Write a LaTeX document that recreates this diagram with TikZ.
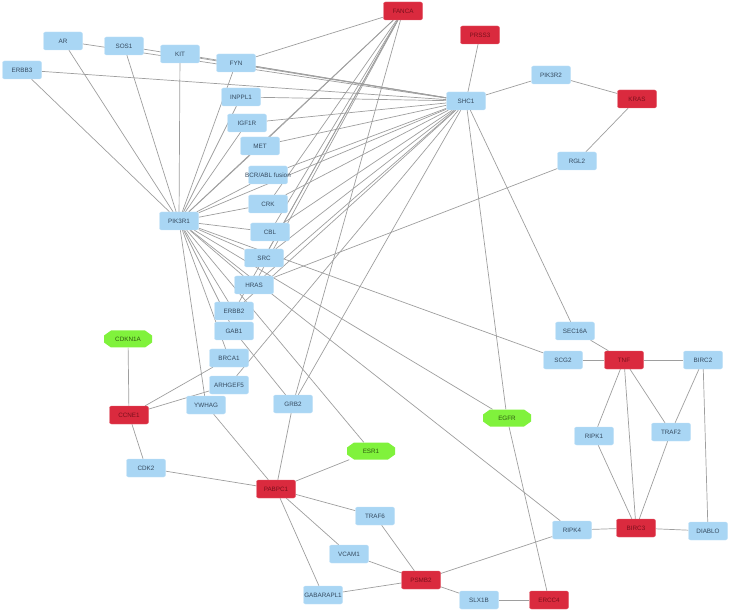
\documentclass[tikz,border=0pt]{standalone}
\usepackage{fontspec}
\setmainfont{Liberation Sans}
\definecolor{nblue}{HTML}{A9D6F4}
\definecolor{nred}{HTML}{DA2A3E}
\definecolor{ngreen}{HTML}{80F23C}
\definecolor{edgec}{HTML}{9E9E9E}
\definecolor{tblue}{HTML}{34495E}
\definecolor{tred}{HTML}{7A101C}
\definecolor{tgreen}{HTML}{2E5A10}
\pgfdeclarelayer{edgelayer}
\pgfsetlayers{edgelayer,main}
\newcommand{\GreenGene}[4]{%
  \fill[ngreen,shift={(#2,#3)}] (-24,-3.5) -- (-17,-8.5) -- (17,-8.5) -- (24,-3.5) -- (24,3.5) -- (17,8.5) -- (-17,8.5) -- (-24,3.5) -- cycle;
  \node[gtext] (#1) at (#2,#3) {#4};}
\begin{document}
\begin{tikzpicture}[x=1pt,y=-1pt,
  gene/.style={rectangle,rounded corners=2pt,minimum width=39pt,minimum height=18pt,inner sep=0pt,font=\fontsize{6.3}{7}\selectfont},
  bnode/.style={gene,fill=nblue,draw=nblue!70!white,text=tblue},
  rnode/.style={gene,fill=nred,draw=nred!75!white,text=tred},
  gtext/.style={rectangle,minimum width=48pt,minimum height=17pt,inner sep=0pt,text=tgreen,font=\fontsize{6.3}{7}\selectfont},
  link/.style={draw=edgec,line width=0.7pt}]
\useasboundingbox (0,0) rectangle (731,612);
% red nodes
\node[rnode] (FANCA) at (403,11) {FANCA};
\node[rnode] (PRSS3) at (480,35) {PRSS3};
\node[rnode] (KRAS) at (637,99) {KRAS};
\node[rnode] (TNF) at (624,360) {TNF};
\node[rnode] (CCNE1) at (129,415) {CCNE1};
\node[rnode] (PABPC1) at (276,489) {PABPC1};
\node[rnode] (BIRC3) at (636,528) {BIRC3};
\node[rnode] (PSMB2) at (421,580) {PSMB2};
\node[rnode] (ERCC4) at (549,600) {ERCC4};
% blue nodes
\node[bnode] (AR) at (63,41) {AR};
\node[bnode] (SOS1) at (124,46) {SOS1};
\node[bnode] (KIT) at (180,54) {KIT};
\node[bnode] (FYN) at (236,63) {FYN};
\node[bnode] (ERBB3) at (22,70) {ERBB3};
\node[bnode] (PIK3R2) at (551,75) {PIK3R2};
\node[bnode] (SHC1) at (466,101) {SHC1};
\node[bnode] (INPPL1) at (241,97) {INPPL1};
\node[bnode] (IGF1R) at (247,123) {IGF1R};
\node[bnode] (MET) at (260,146) {MET};
\node[bnode] (RGL2) at (577,161) {RGL2};
\node[bnode] (BCRABL) at (268,175) {};
\node[font=\fontsize{6.3}{7}\selectfont,text=tblue] at (BCRABL) {BCR/ABL fusion};
\node[bnode] (CRK) at (268,204) {CRK};
\node[bnode] (PIK3R1) at (179,221) {PIK3R1};
\node[bnode] (CBL) at (270,232) {CBL};
\node[bnode] (SRC) at (264,258) {SRC};
\node[bnode] (HRAS) at (254,285) {HRAS};
\node[bnode] (ERBB2) at (234,311) {ERBB2};
\node[bnode] (GAB1) at (234,331) {GAB1};
\node[bnode] (SEC16A) at (575,331) {SEC16A};
\node[bnode] (BRCA1) at (229,358) {BRCA1};
\node[bnode] (SCG2) at (563,360) {SCG2};
\node[bnode] (BIRC2) at (703,360) {BIRC2};
\node[bnode] (ARHGEF5) at (229,385) {ARHGEF5};
\node[bnode] (YWHAG) at (206,405) {YWHAG};
\node[bnode] (GRB2) at (293,404) {GRB2};
\node[bnode] (TRAF2) at (671,432) {TRAF2};
\node[bnode] (RIPK1) at (594,436) {RIPK1};
\node[bnode] (CDK2) at (146,468) {CDK2};
\node[bnode] (TRAF6) at (375,516) {TRAF6};
\node[bnode] (RIPK4) at (572,530) {RIPK4};
\node[bnode] (DIABLO) at (708,531) {DIABLO};
\node[bnode] (VCAM1) at (349,554) {VCAM1};
\node[bnode] (GABARAPL1) at (323,595) {GABARAPL1};
\node[bnode] (SLX1B) at (479,600) {SLX1B};
% green nodes
\GreenGene{CDKN1A}{128}{339}{CDKN1A}
\GreenGene{EGFR}{507}{418}{EGFR}
\GreenGene{ESR1}{371}{451}{ESR1}
% edges
\begin{pgfonlayer}{edgelayer}
\foreach \a/\b in {SHC1/PRSS3,SHC1/PIK3R2,SHC1/AR,SHC1/SOS1,SHC1/KIT,SHC1/FYN,SHC1/ERBB3,
  SHC1/INPPL1,SHC1/IGF1R,SHC1/MET,SHC1/BCRABL,SHC1/CRK,SHC1/CBL,SHC1/SRC,SHC1/HRAS,
  SHC1/ERBB2,SHC1/ARHGEF5,SHC1/GRB2,SHC1/PIK3R1,SHC1/SEC16A,SHC1/EGFR,
  PIK3R1/ERBB3,PIK3R1/AR,PIK3R1/SOS1,PIK3R1/KIT,PIK3R1/FYN,PIK3R1/INPPL1,PIK3R1/IGF1R,
  PIK3R1/MET,PIK3R1/BCRABL,PIK3R1/CRK,PIK3R1/CBL,PIK3R1/SRC,PIK3R1/HRAS,PIK3R1/ERBB2,
  PIK3R1/GAB1,PIK3R1/BRCA1,PIK3R1/YWHAG,PIK3R1/ESR1,PIK3R1/EGFR,PIK3R1/SCG2,PIK3R1/RIPK4,
  PIK3R1/FANCA,
  FANCA/FYN,FANCA/MET,FANCA/CRK,FANCA/CBL,FANCA/SRC,FANCA/HRAS,FANCA/ERBB2,FANCA/GRB2,
  RGL2/HRAS,RGL2/KRAS,PIK3R2/KRAS,
  TNF/SCG2,TNF/SEC16A,TNF/BIRC2,TNF/RIPK1,TNF/TRAF2,TNF/BIRC3,
  BIRC2/TRAF2,BIRC2/DIABLO,BIRC3/RIPK1,BIRC3/TRAF2,BIRC3/RIPK4,BIRC3/DIABLO,
  RIPK4/PSMB2,EGFR/ERCC4,ERCC4/SLX1B,SLX1B/PSMB2,PSMB2/TRAF6,PSMB2/VCAM1,PSMB2/GABARAPL1,
  PABPC1/YWHAG,PABPC1/GRB2,PABPC1/CDK2,PABPC1/ESR1,PABPC1/TRAF6,PABPC1/VCAM1,PABPC1/GABARAPL1,
  CCNE1/CDKN1A,CCNE1/CDK2,CCNE1/BRCA1,CCNE1/ARHGEF5,GAB1/GRB2}
  \draw[link] (\a) -- (\b);
\end{pgfonlayer}
\end{tikzpicture}
\end{document}
